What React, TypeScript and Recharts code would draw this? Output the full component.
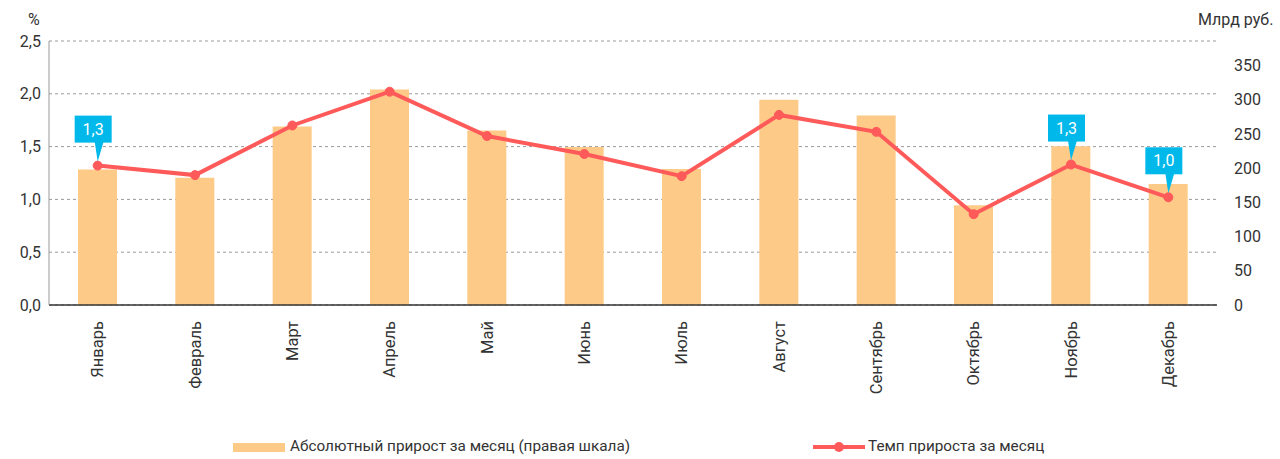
import React from 'react';
import {
  ComposedChart,
  Bar,
  Line,
  XAxis,
  YAxis,
  CartesianGrid,
  Legend,
  LabelList,
} from 'recharts';

const months = [
  'Январь', 'Февраль', 'Март', 'Апрель', 'Май', 'Июнь',
  'Июль', 'Август', 'Сентябрь', 'Октябрь', 'Ноябрь', 'Декабрь',
];
// Абсолютный прирост, млрд руб. (правая шкала)
const absGrowth = [198, 186, 261, 315, 255, 231, 199, 300, 277, 146, 232, 177];
// Темп прироста, %
const growthRate = [1.32, 1.23, 1.7, 2.02, 1.6, 1.43, 1.22, 1.8, 1.64, 0.86, 1.33, 1.02];
const callouts = ['1,3', null, null, null, null, null, null, null, null, null, '1,3', '1,0'];

const leftTicks = [0, 0.5, 1, 1.5, 2, 2.5];
const rightTicks = [0, 50, 100, 150, 200, 250, 300, 350];
const edgeTicks = [0, 1, 2, 3, 4, 5, 6, 7, 8, 9, 10, 11, 12];

const FONT = 'Roboto, "Noto Sans", sans-serif';
const TEXT = '#333';
const BAR = '#FECA88';
const LINE = '#FF5A5A';
const CALLOUT = '#00B8EA';

const data = months.map((m, i) => ({
  month: m,
  abs: absGrowth[i],
  rate: growthRate[i],
  callout: callouts[i],
}));

const fmt = (v: number) => v.toFixed(1).replace('.', ',');

const MonthTick = (props: any) => {
  const { x, y, payload } = props;
  return (
    <text
      transform={`translate(${x},${y + 8}) rotate(-90)`}
      textAnchor="end"
      dy="0.35em"
      fill={TEXT}
      fontSize={16.5}
      fontFamily={FONT}
    >
      {payload.value}
    </text>
  );
};

const Callout = (props: any) => {
  const { x, y, value } = props;
  if (!value) return null;
  const w = 37;
  const h = 27;
  const bx = x - 23;
  const by = y - 50;
  return (
    <g>
      <rect x={bx} y={by} width={w} height={h} fill={CALLOUT} />
      <polygon
        points={`${x - 3},${by + h - 1} ${x + 6},${by + h - 1} ${x},${y - 4}`}
        fill={CALLOUT}
      />
      <text
        x={bx + w / 2}
        y={by + h / 2}
        dy="0.35em"
        textAnchor="middle"
        fill="#fff"
        fontSize={16}
        fontFamily={FONT}
      >
        {value}
      </text>
    </g>
  );
};

const LegendContent = () => (
  <div style={{ position: 'relative', width: 1280, height: 24, fontFamily: FONT, fontSize: 15.3, color: TEXT }}>
    <div style={{ position: 'absolute', left: 233, top: 8, width: 52, height: 9, background: BAR }} />
    <div style={{ position: 'absolute', left: 290, top: 2, whiteSpace: 'nowrap' }}>
      Абсолютный прирост за месяц (правая шкала)
    </div>
    <svg style={{ position: 'absolute', left: 813, top: 4 }} width={52} height={16}>
      <line x1={0} y1={8} x2={52} y2={8} stroke={LINE} strokeWidth={4} />
      <circle cx={26} cy={8} r={5} fill={LINE} />
    </svg>
    <div style={{ position: 'absolute', left: 868, top: 2, whiteSpace: 'nowrap' }}>
      Темп прироста за месяц
    </div>
  </div>
);

export default function App() {
  return (
    <div style={{ position: 'absolute', left: 0, top: 0, width: 1280, height: 459, background: '#fff' }}>
      <div style={{ position: 'absolute', left: 28, top: 10, fontFamily: FONT, fontSize: 16, color: TEXT }}>%</div>
      <div style={{ position: 'absolute', left: 1198, top: 10, fontFamily: FONT, fontSize: 16, color: TEXT }}>
        Млрд руб.
      </div>
      <ComposedChart
        width={1280}
        height={459}
        data={data}
        margin={{ top: 41, right: 0, bottom: 0, left: 0 }}
      >
        <CartesianGrid
          vertical={false}
          xAxisId="cat"
          yAxisId="left"
          stroke="#9a9a9a"
          strokeDasharray="3 3"
        />
        <XAxis
          xAxisId="edges"
          type="number"
          domain={[0, 12]}
          ticks={edgeTicks}
          tick={false}
          axisLine={false}
          tickLine={{ stroke: TEXT }}
          tickSize={5}
          height={1}
          allowDataOverflow
        />
        <XAxis
          xAxisId="cat"
          dataKey="month"
          axisLine={{ stroke: TEXT, strokeWidth: 1.5 }}
          tickLine={false}
          tick={<MonthTick />}
          interval={0}
          height={129}
        />
        <YAxis
          yAxisId="left"
          orientation="left"
          width={49}
          domain={[0, 2.5]}
          ticks={leftTicks}
          tickFormatter={fmt}
          axisLine={{ stroke: '#999' }}
          tickLine={false}
          tick={{ fill: TEXT, fontSize: 16, fontFamily: FONT }}
        />
        <YAxis
          yAxisId="right"
          orientation="right"
          width={63}
          domain={[0, 386]}
          ticks={rightTicks}
          axisLine={false}
          tickLine={false}
          tickMargin={11}
          tick={{ fill: TEXT, fontSize: 16, fontFamily: FONT, textAnchor: 'start' }}
          allowDataOverflow
        />
        <Bar
          xAxisId="cat"
          yAxisId="right"
          dataKey="abs"
          fill={BAR}
          barSize={39}
          isAnimationActive={false}
        />
        <Line
          xAxisId="cat"
          yAxisId="left"
          dataKey="rate"
          stroke={LINE}
          strokeWidth={4}
          dot={{ r: 4.5, fill: LINE, stroke: LINE, strokeWidth: 1 }}
          activeDot={false}
          isAnimationActive={false}
        >
          <LabelList dataKey="callout" content={<Callout />} />
        </Line>
        <Legend verticalAlign="bottom" content={<LegendContent />} />
      </ComposedChart>
    </div>
  );
}
